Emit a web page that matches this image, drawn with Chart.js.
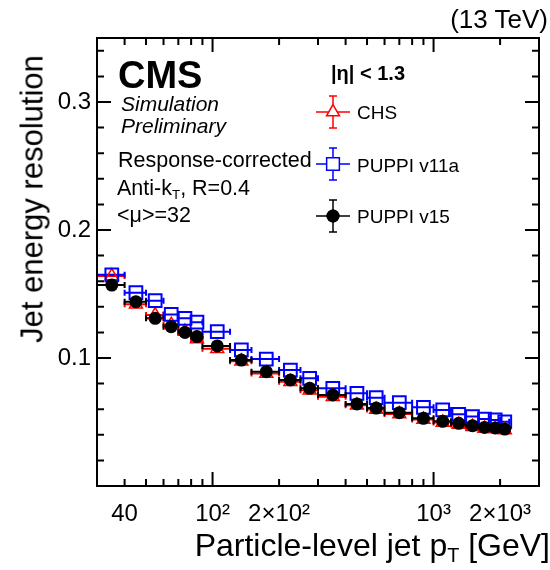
<!DOCTYPE html>
<html lang="en">
<head>
  <meta charset="UTF-8">
  <title>Jet energy resolution</title>
  <script src="https://cdn.jsdelivr.net/npm/chart.js@4.4.1/dist/chart.umd.min.js"></script>
  <style>
    html, body {
      margin: 0;
      padding: 0;
      background: #fff;
    }

    #wrap {
      position: relative;
      width: 550px;
      height: 570px;
      font-family: "Liberation Sans", Arial, Helvetica, sans-serif;
      color: #000;
      overflow: hidden;
    }

    #wrap canvas {
      position: absolute;
      left: 0;
      top: 0;
    }

    .txt {
      position: absolute;
      white-space: nowrap;
      line-height: 1;
    }

    .txt sub {
      font-size: 0.62em;
      vertical-align: -0.3em;
      line-height: 0;
    }
  </style>
</head>
<body>

  <div id="wrap">
    <canvas id="jer" width="550" height="570"></canvas>

    <!-- titres et annotations -->
    <div class="txt" style="right:2px; top:6px; font-size:26px;">(13 TeV)</div>
    <div class="txt" style="left:118px; top:56px; font-size:38px; font-weight:bold;">CMS</div>
    <div class="txt" style="left:121px; top:93px; font-size:21px; font-style:italic;">Simulation</div>
    <div class="txt" style="left:121px; top:115px; font-size:21px; font-style:italic;">Preliminary</div>
    <div class="txt" style="left:118px; top:150px; font-size:21.5px;">Response-corrected</div>
    <div class="txt" style="left:117px; top:178px; font-size:21.5px;">Anti-k<sub>T</sub>, R=0.4</div>
    <div class="txt" style="left:117px; top:205px; font-size:21.5px;">&lt;μ&gt;=32</div>

    <div class="txt" style="left:331px; top:63px; font-size:20px; font-weight:bold;">|η| &lt; 1.3</div>
    <div class="txt" style="left:357px; top:103px; font-size:19px;">CHS</div>
    <div class="txt" style="left:357px; top:156px; font-size:19px;">PUPPI v11a</div>
    <div class="txt" style="left:357px; top:207px; font-size:19px;">PUPPI v15</div>

    <div class="txt" style="left:32px; top:199px; font-size:31px; transform:translate(-50%,-50%) rotate(-90deg);">Jet energy resolution</div>
    <div class="txt" style="right:0px; top:529px; font-size:32px;">Particle-level jet p<sub>T</sub> [GeV]</div>
  </div>

  <script>
    // bins en pT (GeV)
    const ptLow    = [30, 40, 50, 60, 70, 80, 90, 120, 150, 200, 250, 300, 400, 500, 600, 800, 1000, 1200, 1400, 1600, 1800, 2000];
    const ptHigh   = [40, 50, 60, 70, 80, 90, 120, 150, 200, 250, 300, 400, 500, 600, 800, 1000, 1200, 1400, 1600, 1800, 2000, 2200];
    const ptCenter = [35, 45, 55, 65, 75, 85, 105, 135, 175, 225, 275, 350, 450, 550, 700, 900, 1100, 1300, 1500, 1700, 1900, 2100];

    // resolution
    const resCHS  = [0.164, 0.142, 0.1335, 0.126, 0.1207, 0.1148, 0.1073, 0.0975, 0.0878, 0.0815, 0.0748, 0.0698, 0.0630, 0.0597, 0.0563, 0.0520, 0.0497, 0.0480, 0.0462, 0.0450, 0.0445, 0.0437];
    const resV11a = [0.165, 0.151, 0.1448, 0.134, 0.131, 0.128, 0.1206, 0.1063, 0.0992, 0.0906, 0.0841, 0.0763, 0.0724, 0.0690, 0.0651, 0.0615, 0.0594, 0.0560, 0.0542, 0.0523, 0.0516, 0.0502];
    const resV15  = [0.157, 0.144, 0.131, 0.1245, 0.120, 0.1167, 0.1094, 0.0984, 0.0893, 0.0828, 0.0763, 0.0711, 0.0641, 0.0609, 0.0573, 0.0529, 0.0505, 0.0490, 0.0471, 0.0458, 0.0453, 0.0445];

    const xTickValues = [40, 100, 200, 1000, 2000];
    const xTickLabels = ["40", "10²", "2×10²", "10³", "2×10³"];
    const yTickValues = [0.1, 0.2, 0.3];
    const yTickLabels = ["0.1", "0.2", "0.3"];

    const fontFamily = '"Liberation Sans", Arial, Helvetica, sans-serif';

    const toPoints = (vals) => ptCenter.map((x, i) => ({ x: x, y: vals[i] }));

    // barres d'erreur horizontales (largeur du bin)
    const errorBars = {
      id: "errorBars",
      beforeDatasetsDraw(chart) {
        const { ctx, scales: { x, y } } = chart;
        ctx.save();
        for (let d = chart.data.datasets.length - 1; d >= 0; d--) {
          const ds = chart.data.datasets[d];
          ctx.strokeStyle = ds.barColor;
          ctx.lineWidth = 2;
          ctx.beginPath();
          ds.data.forEach((p, i) => {
            const x1 = x.getPixelForValue(ptLow[i]);
            const x2 = x.getPixelForValue(ptHigh[i]);
            const py = y.getPixelForValue(p.y);
            ctx.moveTo(x1, py); ctx.lineTo(x2, py);
            ctx.moveTo(x1, py - 3); ctx.lineTo(x1, py + 3);
            ctx.moveTo(x2, py - 3); ctx.lineTo(x2, py + 3);
          });
          ctx.stroke();
        }
        ctx.restore();
      }
    };

    // cadre, ticks vers l'interieur et symboles de legende
    const frameTicks = {
      id: "frameTicks",
      afterDraw(chart) {
        const { ctx, chartArea: a, scales: { x, y } } = chart;
        ctx.save();
        ctx.strokeStyle = "#000";
        ctx.lineWidth = 2;
        ctx.strokeRect(a.left, a.top, a.right - a.left, a.bottom - a.top);

        ctx.beginPath();
        for (let d = 1; d <= 3; d++) {
          for (let m = 1; m <= 9; m++) {
            const v = m * Math.pow(10, d);
            if (v <= x.min || v >= x.max) continue;
            const px = x.getPixelForValue(v);
            const len = m === 1 ? 14 : 7;
            ctx.moveTo(px, a.bottom); ctx.lineTo(px, a.bottom - len);
            ctx.moveTo(px, a.top); ctx.lineTo(px, a.top + len);
          }
        }
        for (let k = 1; k * 0.02 < y.max; k++) {
          const py = y.getPixelForValue(k * 0.02);
          const len = k % 5 === 0 ? 14 : 7;
          ctx.moveTo(a.left, py); ctx.lineTo(a.left + len, py);
          ctx.moveTo(a.right, py); ctx.lineTo(a.right - len, py);
        }
        ctx.stroke();

        // legende
        const legend = [
          { y: 112, color: "#ff0000", style: "triangle", radius: 7.5, fill: false },
          { y: 164, color: "#0000ff", style: "rect", radius: 9, fill: false },
          { y: 216, color: "#000000", style: "circle", radius: 6.5, fill: true }
        ];
        const lx = 333;
        legend.forEach((item) => {
          ctx.strokeStyle = item.color;
          ctx.lineWidth = 1.5;
          ctx.beginPath();
          ctx.moveTo(lx - 17, item.y); ctx.lineTo(lx + 17, item.y);
          ctx.moveTo(lx, item.y - 16); ctx.lineTo(lx, item.y + 16);
          ctx.moveTo(lx - 4, item.y - 16); ctx.lineTo(lx + 4, item.y - 16);
          ctx.moveTo(lx - 4, item.y + 16); ctx.lineTo(lx + 4, item.y + 16);
          ctx.stroke();
          ctx.fillStyle = item.fill ? item.color : "#ffffff";
          ctx.lineWidth = item.fill ? 0 : 1.5;
          Chart.helpers.drawPoint(ctx, {
            pointStyle: item.style,
            radius: item.radius,
            rotation: 0,
            borderWidth: item.fill ? 0 : 1.5
          }, lx, item.y);
          if (item.fill) { ctx.fill(); }
        });
        ctx.restore();
      }
    };

    const ctx = document.getElementById("jer").getContext("2d");
    new Chart(ctx, {
      type: "scatter",
      data: {
        datasets: [
          {
            label: "PUPPI v15",
            data: toPoints(resV15),
            barColor: "#000000",
            pointStyle: "circle",
            pointRadius: 6.5,
            backgroundColor: "#000000",
            borderColor: "#000000",
            borderWidth: 0,
            order: 1
          },
          {
            label: "PUPPI v11a",
            data: toPoints(resV11a),
            barColor: "#0000ff",
            pointStyle: "rect",
            pointRadius: 9,
            backgroundColor: "rgba(0,0,0,0)",
            borderColor: "#0000ff",
            borderWidth: 2,
            order: 2
          },
          {
            label: "CHS",
            data: toPoints(resCHS),
            barColor: "#ff0000",
            pointStyle: "triangle",
            pointRadius: 7.5,
            backgroundColor: "rgba(0,0,0,0)",
            borderColor: "#ff0000",
            borderWidth: 1.5,
            order: 3
          }
        ]
      },
      options: {
        responsive: false,
        animation: false,
        events: [],
        layout: { padding: { top: 38, right: 1, left: 0, bottom: 0 } },
        plugins: {
          legend: { display: false },
          tooltip: { enabled: false }
        },
        scales: {
          x: {
            type: "logarithmic",
            min: 30,
            max: 3000,
            grid: { display: false, drawTicks: false },
            border: { display: false },
            afterBuildTicks: (s) => { s.ticks = xTickValues.map((v) => ({ value: v })); },
            afterFit: (s) => { s.height = 84; },
            ticks: {
              autoSkip: false,
              maxRotation: 0,
              padding: 14,
              color: "#000",
              font: { family: fontFamily, size: 24 },
              callback: (v, i) => xTickLabels[i]
            }
          },
          y: {
            min: 0,
            max: 0.35,
            grid: { display: false, drawTicks: false },
            border: { display: false },
            afterBuildTicks: (s) => { s.ticks = yTickValues.map((v) => ({ value: v })); },
            afterFit: (s) => { s.width = 97; },
            ticks: {
              padding: 6,
              color: "#000",
              font: { family: fontFamily, size: 24 },
              callback: (v, i) => yTickLabels[i]
            }
          }
        }
      },
      plugins: [errorBars, frameTicks]
    });
  </script>
</body>
</html>
